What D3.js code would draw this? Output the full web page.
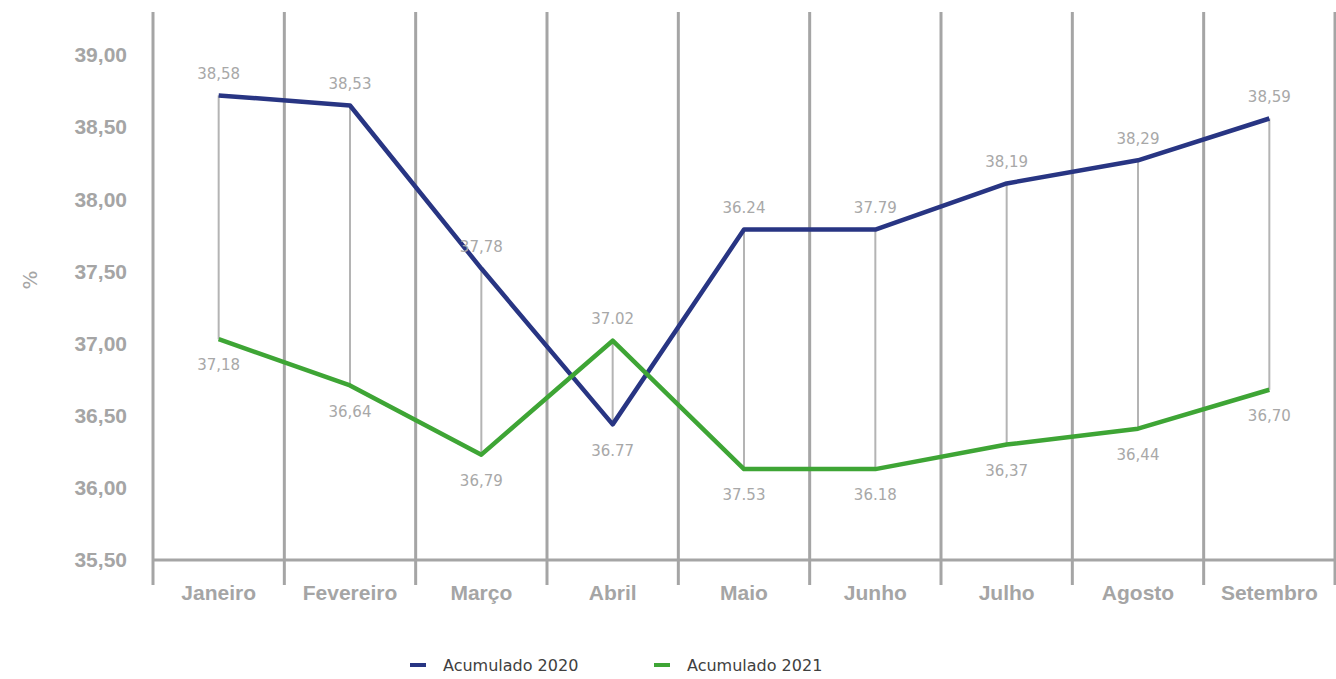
<!DOCTYPE html>
<html>
<head>
<meta charset="utf-8">
<script src="https://cdn.jsdelivr.net/npm/d3@7"></script>
<style>
    body { margin: 0; background: #fff; }
    svg { display: block; font-family: "DejaVu Sans", sans-serif; }
</style>
</head>
<body>
<div id="chart"></div>
<script>
    // dados
    const meses = ['Janeiro', 'Fevereiro', 'Março', 'Abril', 'Maio', 'Junho', 'Julho', 'Agosto', 'Setembro'];
    const acumulado2020 = [38.72, 38.65, 37.52, 36.44, 37.79, 37.79, 38.11, 38.27, 38.56];
    const acumulado2021 = [37.03, 36.71, 36.23, 37.02, 36.13, 36.13, 36.30, 36.41, 36.68];
    // rótulos como aparecem no gráfico original
    const rotulosSup = ['38,58', '38,53', '37,78', '37.02', '36.24', '37.79', '38,19', '38,29', '38,59'];
    const rotulosInf = ['37,18', '36,64', '36,79', '36.77', '37.53', '36.18', '36,37', '36,44', '36,70'];
    const yTicks = [35.5, 36, 36.5, 37, 37.5, 38, 38.5, 39];
    const series = ['Acumulado 2020', 'Acumulado 2021'];
    const cores = ['#283583', '#3ea535'];

    const W = 1336, H = 679;
    const margin = {left: 153, right: 1, top: 55, bottom: 119};
    const gray = '#a5a5a5';

    let svg = d3.select('#chart').append('svg')
        .attr('width', W)
        .attr('height', H);

    let x = d3.scaleBand().domain(meses).range([margin.left, W - margin.right]);
    let y = d3.scaleLinear().domain([35.5, 39]).range([H - margin.bottom, margin.top]);
    let cx = function (m) { return x(m) + x.bandwidth() / 2; };

    // linhas verticais (separadores)
    let bounds = meses.map(function (m) { return x(m); }).concat([x(meses[meses.length - 1]) + x.bandwidth()]);
    svg.selectAll('.vgrid')
        .data(bounds)
        .enter()
        .append('line')
        .attr('x1', d => d).attr('x2', d => d)
        .attr('y1', 12).attr('y2', y(35.5) + 25)
        .attr('stroke', gray)
        .attr('stroke-width', 3);

    // eixo x
    svg.append('line')
        .attr('x1', margin.left).attr('x2', W)
        .attr('y1', y(35.5)).attr('y2', y(35.5))
        .attr('stroke', gray)
        .attr('stroke-width', 3);

    // eixo y (só rótulos)
    let yAxis = svg.append('g')
        .attr('transform', 'translate(' + margin.left + ',0)')
        .call(d3.axisLeft(y).tickValues(yTicks).tickSize(0).tickPadding(26)
            .tickFormat(d => d3.format('.2f')(d).replace('.', ',')));
    yAxis.select('.domain').remove();
    yAxis.selectAll('text')
        .attr('fill', gray)
        .style('font-size', '21px')
        .style('font-weight', 'bold');

    // rótulos x
    let xAxis = svg.append('g')
        .attr('transform', 'translate(0,' + y(35.5) + ')')
        .call(d3.axisBottom(x).tickSize(0).tickPadding(25));
    xAxis.select('.domain').remove();
    xAxis.selectAll('text')
        .attr('fill', gray)
        .style('font-size', '21px')
        .style('font-weight', 'bold');

    svg.append('text')
        .attr('transform', 'translate(30,280) rotate(-90)')
        .attr('text-anchor', 'middle')
        .attr('dy', '0.35em')
        .attr('fill', gray)
        .style('font-size', '20px')
        .text('%');

    // linhas alto-baixo
    svg.selectAll('.hilo')
        .data(meses)
        .enter()
        .append('line')
        .attr('x1', d => cx(d)).attr('x2', d => cx(d))
        .attr('y1', (d, i) => y(acumulado2020[i]))
        .attr('y2', (d, i) => y(acumulado2021[i]))
        .attr('stroke', '#b4b4b4')
        .attr('stroke-width', 2);

    let line = d3.line()
        .x((d, i) => cx(meses[i]))
        .y(d => y(d));

    [acumulado2020, acumulado2021].forEach(function (s, k) {
        svg.append('path')
            .datum(s)
            .attr('d', line)
            .attr('fill', 'none')
            .attr('stroke', cores[k])
            .attr('stroke-width', 4.5)
            .attr('stroke-linejoin', 'round');
    });

    // rótulos de dados
    meses.forEach(function (m, i) {
        let yTop = Math.min(y(acumulado2020[i]), y(acumulado2021[i]));
        let yBot = Math.max(y(acumulado2020[i]), y(acumulado2021[i]));
        svg.append('text')
            .attr('x', cx(m)).attr('y', yTop - 22)
            .attr('dy', '0.35em')
            .attr('text-anchor', 'middle')
            .attr('fill', '#a8a8a8')
            .style('font-size', '15px')
            .text(rotulosSup[i]);
        svg.append('text')
            .attr('x', cx(m)).attr('y', yBot + 26)
            .attr('dy', '0.35em')
            .attr('text-anchor', 'middle')
            .attr('fill', '#a8a8a8')
            .style('font-size', '15px')
            .text(rotulosInf[i]);
    });

    // legenda
    let legX = [410, 654];
    series.forEach(function (s, k) {
        let g = svg.append('g').attr('transform', 'translate(' + legX[k] + ',665)');
        g.append('line')
            .attr('x1', 0).attr('x2', 16)
            .attr('stroke', cores[k])
            .attr('stroke-width', 4);
        g.append('text')
            .attr('x', 33).attr('dy', '0.35em')
            .attr('fill', '#404040')
            .style('font-size', '16px')
            .text(s);
    });
</script>
</body>
</html>
